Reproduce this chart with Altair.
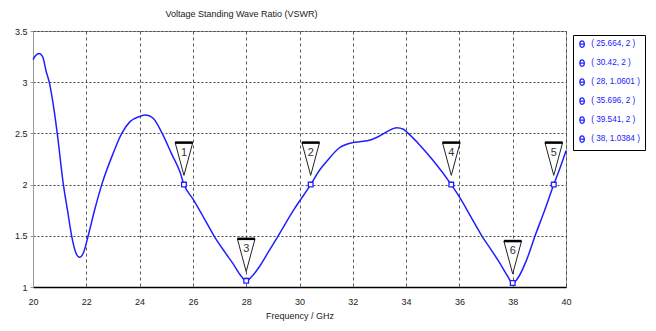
import altair as alt
import pandas as pd

# ---- data ----
freq = [20.0, 20.1, 20.23, 20.36, 20.5, 20.61, 20.76, 20.91, 21.14, 21.3, 21.45, 21.6,
        21.75, 21.9, 22.07, 22.3, 22.58, 23.0, 23.33, 23.64, 24.0, 24.23, 24.5, 24.83,
        25.2, 25.52, 25.664, 26.0, 26.4, 26.79, 27.2, 27.5, 27.8, 28.0, 28.2, 28.5, 28.85,
        29.2, 29.8, 30.42, 30.75, 31.0, 31.5, 32.0, 32.3, 32.65, 33.0, 33.3, 33.65,
        33.9, 34.08, 34.5, 35.0, 35.696, 36.0, 36.4, 36.84, 37.2, 37.5, 37.8, 38.0,
        38.2, 38.5, 38.84, 39.2, 39.541, 39.8, 40.0]
vswr = [3.22, 3.26, 3.28, 3.25, 3.1, 3.0, 2.78, 2.5, 2.0, 1.74, 1.5, 1.34,
        1.29, 1.34, 1.5, 1.74, 2.0, 2.30, 2.50, 2.615, 2.665, 2.68, 2.65, 2.51,
        2.30, 2.12, 2.0, 1.86, 1.68, 1.5, 1.34, 1.23, 1.11, 1.06, 1.1, 1.2, 1.35,
        1.5, 1.76, 2.0, 2.14, 2.22, 2.36, 2.41, 2.42, 2.435, 2.475, 2.52, 2.555,
        2.54, 2.5, 2.39, 2.24, 2.0, 1.88, 1.7, 1.5, 1.36, 1.24, 1.11, 1.038,
        1.09, 1.25, 1.5, 1.75, 2.0, 2.18, 2.33]

marker_id = ["1", "2", "3", "4", "5", "6"]
marker_f = [25.664, 30.42, 28, 35.696, 39.541, 38]
marker_v = [2, 2, 1.0601, 2, 2, 1.0384]
marker_label = ["( 25.664, 2 )", "( 30.42, 2 )", "( 28, 1.0601 )",
                "( 35.696, 2 )", "( 39.541, 2 )", "( 38, 1.0384 )"]

x_ticks = [20, 22, 24, 26, 28, 30, 32, 34, 36, 38, 40]
y_ticks = [1, 1.5, 2, 2.5, 3, 3.5]

title_text = "Voltage Standing Wave Ratio (VSWR)"
x_title = "Frequency / GHz"

# ---- styling ----
FONT = "Liberation Sans"
BLUE = "#2020ff"
TRI = "M -0.21 -1 L 0.21 -1 L 0 -0.22 Z"
BAR = "M -0.21 -1 L 0.21 -1"
THETA = "M -0.7 0 A 0.7 1 0 1 0 0.7 0 A 0.7 1 0 1 0 -0.7 0 M -0.7 0 L 0.7 0"

curve_df = pd.DataFrame({"f": freq, "v": vswr})
mk_df = pd.DataFrame({"id": marker_id, "f": marker_f, "v": marker_v, "label": marker_label})

xs = alt.Scale(domain=[20, 40], nice=False, zero=False)
ys = alt.Scale(domain=[1, 3.5], nice=False, zero=False)

x_enc = alt.X("f:Q", scale=xs, axis=alt.Axis(
    values=x_ticks, title=x_title, grid=True, gridDash=[3, 3], gridColor="#444",
    gridOpacity=0.9, domainColor="black", domainWidth=1.5, ticks=False,
    labelFlush=False, labelPadding=10, labelFontSize=9, labelColor="#222",
    labelFont=FONT, titleFont=FONT, titleFontSize=9, titleFontWeight="normal",
    titleColor="#222", titlePadding=5))
y_enc = alt.Y("v:Q", scale=ys, axis=alt.Axis(
    values=y_ticks, format="~g", title=None, grid=True, gridDash=[2, 2],
    gridColor="#333", gridOpacity=0.9, domainColor="#999", domainWidth=1,
    tickColor="#999", tickSize=3, labelPadding=3, labelFontSize=9,
    labelFlush=False, labelColor="#222", labelFont=FONT))

base = alt.Chart(curve_df)
curve = base.mark_line(color=BLUE, strokeWidth=1.5, interpolate="monotone").encode(x=x_enc, y=y_enc)

mk = alt.Chart(mk_df)
tri = mk.mark_point(shape=TRI, size=7056, filled=True, fill="white", stroke="#222",
                    strokeWidth=1, opacity=1).encode(x="f:Q", y="v:Q")
bar = mk.mark_point(shape=BAR, size=7056, filled=False, stroke="black",
                    strokeWidth=2.5, opacity=1).encode(x="f:Q", y="v:Q")
num = mk.mark_text(dy=-32, font=FONT, fontSize=11, color="#333").encode(
    x="f:Q", y="v:Q", text="id:N")
sq = mk.mark_point(shape="square", size=22, filled=True, fill="white",
                   strokeWidth=1.3, opacity=1).encode(
    x="f:Q", y="v:Q",
    stroke=alt.Stroke("label:N", scale=alt.Scale(domain=marker_label, range=[BLUE] * 6),
                      legend=alt.Legend(
                          title=None, orient="none", legendX=540, legendY=4,
                          strokeColor="black", fillColor="white", padding=5,
                          rowPadding=7, labelFont=FONT, labelFontSize=8.2,
                          labelColor=BLUE, symbolType=THETA, symbolSize=42,
                          symbolStrokeWidth=1.2, symbolFillColor="transparent",
                          labelOffset=5)))

chart = alt.layer(curve, tri, bar, num, sq).properties(
    width=533, height=256,
    title=alt.TitleParams(title_text, font=FONT, fontSize=9, fontWeight="normal",
                          color="#222", anchor="middle", dx=-58, offset=8),
    padding={"left": 25, "top": 23, "right": 82, "bottom": 36},
    autosize=alt.AutoSizeParams(type="none"),
).configure_view(stroke="#999", strokeWidth=1)

chart.save("out.html", embed_options={"renderer": "svg", "actions": False})
